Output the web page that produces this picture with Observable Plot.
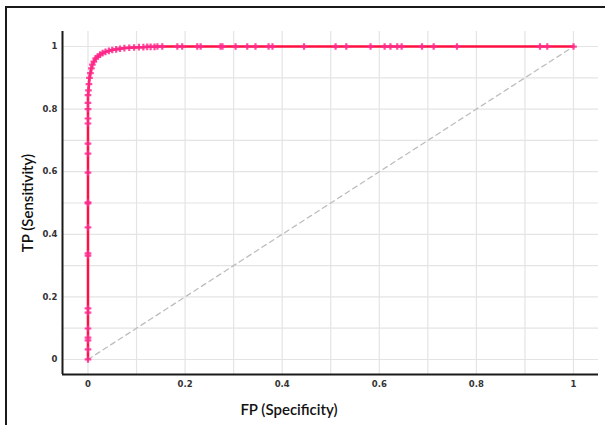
<!DOCTYPE html>
<html>
<head>
<meta charset="utf-8">
<script src="https://cdn.jsdelivr.net/npm/d3@7"></script>
<script src="https://cdn.jsdelivr.net/npm/@observablehq/plot@0.6"></script>
<style>
  html, body { margin: 0; padding: 0; background: #fff; overflow: hidden; }
  #wrap { position: relative; width: 605px; height: 425px; }
  #frame { position: absolute; left: 5px; top: 6px; width: 640px; height: 460px; border: 2px solid #1a1a1a; box-sizing: border-box; }
  #chart { position: absolute; left: 0; top: 0; }
  #xcap { position: absolute; left: 0; top: 400px; width: 578px; text-align: center; font-family: Lato, sans-serif; font-size: 15px; font-weight: 600; color: #111; }
</style>
</head>
<body>
<div id="wrap">
  <div id="frame"></div>
  <div id="chart"></div>
  <div id="xcap"></div>
</div>
<script>
// ROC curve points
const fpr = [
  0, 0, 0, 0, 0, 0, 0, 0, 0, 0, 0, 0, 0, 0, 0, 0, 0, 0, 0, 0,
  0.001, 0.002, 0.003, 0.005, 0.007, 0.009, 0.012, 0.016, 0.020, 0.025,
  0.030, 0.036, 0.043, 0.050, 0.058, 0.066, 0.075, 0.085, 0.095, 0.105,
  0.114, 0.122, 0.129, 0.137, 0.143, 0.153,
  0.184, 0.194, 0.225, 0.232, 0.273, 0.277, 0.304, 0.328, 0.345, 0.372, 0.380,
  0.445, 0.510, 0.532, 0.582, 0.611, 0.623, 0.637, 0.646, 0.688, 0.712, 0.760,
  0.931, 0.946, 1.0
];
const tpr = [
  0, 0.032, 0.061, 0.070, 0.099, 0.150, 0.163, 0.332, 0.339, 0.422,
  0.499, 0.502, 0.597, 0.658, 0.690, 0.754, 0.770, 0.800, 0.820, 0.845,
  0.860, 0.880, 0.900, 0.915, 0.930, 0.942, 0.952, 0.962, 0.968, 0.974,
  0.979, 0.983, 0.986, 0.989, 0.991, 0.993, 0.995, 0.996, 0.997, 0.998,
  0.998, 0.999, 0.999, 0.999, 1, 1,
  1, 1, 1, 1, 1, 1, 1, 1, 1, 1, 1,
  1, 1, 1, 1, 1, 1, 1, 1, 1, 1, 1,
  1, 1, 1
];
const chanceLine = [[0, 0], [1, 1]];
const tickValues = [0, 0.2, 0.4, 0.6, 0.8, 1];
const gridValues = [0, 0.1, 0.2, 0.3, 0.4, 0.5, 0.6, 0.7, 0.8, 0.9, 1];
const xLabel = "FP (Specificity)";
const yLabel = "TP (Sensitivity)";

const roc = fpr.map((x, i) => ({x, y: tpr[i]}));
const xDomain = [-0.0525, 1.0515];
const yDomain = [-0.048, 1.048];
const fmt = d => (d === 0 || d === 1) ? String(d) : d.toFixed(1);

const chart = Plot.plot({
  width: 605,
  height: 425,
  marginLeft: 62,
  marginRight: 7,
  marginTop: 31,
  marginBottom: 51,
  style: { background: "transparent", fontFamily: "'DejaVu Sans', sans-serif" },
  x: { domain: xDomain },
  y: { domain: yDomain },
  marks: [
    Plot.gridX(gridValues, { stroke: "#e4e4e4", strokeOpacity: 1, strokeWidth: 1.2 }),
    Plot.gridY(gridValues, { stroke: "#e4e4e4", strokeOpacity: 1, strokeWidth: 1.2 }),
    Plot.axisX(tickValues, { tickSize: 0, tickPadding: 6, tickFormat: fmt, fontSize: 8.5, fontWeight: "bold", fill: "#333", label: null }),
    Plot.axisY(tickValues, { tickSize: 0, tickPadding: 5, tickFormat: fmt, fontSize: 8.5, fontWeight: "bold", fill: "#333",
      label: yLabel, labelAnchor: "center", labelArrow: "none", labelOffset: 40 }),
    Plot.line(chanceLine, { x: d => d[0], y: d => d[1], stroke: "#bdbdbd", strokeWidth: 1.3, strokeDasharray: "5,4" }),
    Plot.line(roc, { x: "x", y: "y", stroke: "#ff1040", strokeWidth: 2.5 }),
    Plot.dot(roc, { x: "x", y: "y", symbol: "cross", r: 2.8, fill: "#ff2a8e", fillOpacity: 0.85, stroke: "none" }),
    Plot.ruleX([xDomain[0]], { stroke: "#1a1a1a", strokeWidth: 2 }),
    Plot.ruleY([yDomain[0]], { stroke: "#1a1a1a", strokeWidth: 2 })
  ]
});
document.getElementById("chart").appendChild(chart);
// style the y-axis title
chart.querySelectorAll("text").forEach(t => {
  if (t.textContent === yLabel) {
    t.setAttribute("font-family", "Lato, sans-serif");
    t.setAttribute("font-size", "15");
    t.setAttribute("font-weight", "600");
    t.setAttribute("fill", "#111");
  }
});
document.getElementById("xcap").textContent = xLabel;
</script>
</body>
</html>
